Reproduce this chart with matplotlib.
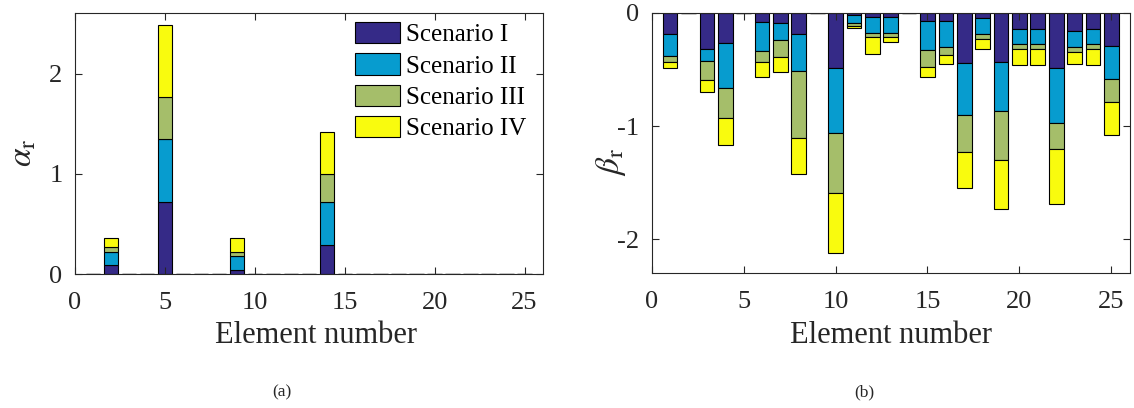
import matplotlib
matplotlib.use("Agg")
import matplotlib.pyplot as plt
import numpy as np

plt.rcParams['font.family'] = ['Liberation Serif', 'DejaVu Serif']
plt.rcParams['mathtext.fontset'] = 'stix'
plt.rcParams['axes.unicode_minus'] = False

elements = list(range(1, 26))
scenarios = ['Scenario I', 'Scenario II', 'Scenario III', 'Scenario IV']
colors = ['#352A87', '#079CCF', '#A5BE6A', '#F9FB0E']

# alpha_r (panel a): per-scenario contributions
alpha_I = [0, 0.09, 0, 0, 0.72, 0, 0, 0, 0.04, 0, 0, 0, 0, 0.294, 0, 0, 0, 0, 0, 0, 0, 0, 0, 0, 0]
alpha_II = [0, 0.135, 0, 0, 0.625, 0, 0, 0, 0.138, 0, 0, 0, 0, 0.423, 0, 0, 0, 0, 0, 0, 0, 0, 0, 0, 0]
alpha_III = [0, 0.046, 0, 0, 0.417, 0, 0, 0, 0.047, 0, 0, 0, 0, 0.281, 0, 0, 0, 0, 0, 0, 0, 0, 0, 0, 0]
alpha_IV = [0, 0.093, 0, 0, 0.724, 0, 0, 0, 0.139, 0, 0, 0, 0, 0.42, 0, 0, 0, 0, 0, 0, 0, 0, 0, 0, 0]

# beta_r (panel b): per-scenario contributions
beta_I = [-0.19, 0, -0.317, -0.27, 0, -0.079, -0.091, -0.185, 0, -0.485, -0.02, -0.041, -0.041, 0,
          -0.076, -0.07, -0.446, -0.05, -0.438, -0.147, -0.147, -0.49, -0.159, -0.147, -0.297]
beta_II = [-0.195, 0, -0.112, -0.391, 0, -0.262, -0.153, -0.329, 0, -0.581, -0.073, -0.141, -0.141, 0,
           -0.25, -0.235, -0.453, -0.141, -0.428, -0.132, -0.132, -0.485, -0.146, -0.132, -0.29]
beta_III = [-0.053, 0, -0.161, -0.264, 0, -0.091, -0.15, -0.59, 0, -0.526, -0.022, -0.032, -0.032, 0,
            -0.156, -0.071, -0.332, -0.044, -0.435, -0.044, -0.044, -0.229, -0.042, -0.044, -0.197]
beta_IV = [-0.052, 0, -0.112, -0.247, 0, -0.138, -0.132, -0.32, 0, -0.525, -0.017, -0.15, -0.047, 0,
           -0.088, -0.076, -0.317, -0.085, -0.429, -0.138, -0.138, -0.482, -0.105, -0.138, -0.294]

TXT = '#262626'
W, H = 1134, 408

fig = plt.figure(figsize=(W / 100, H / 100), dpi=100)
axA = fig.add_axes([75 / W, (H - 274.3) / H, 467.5 / W, 261 / H])
axB = fig.add_axes([651.7 / W, (H - 273.3) / H, 478 / W, 260.6 / H])

def stacked(ax, series):
    bottom = np.zeros(len(elements))
    handles = []
    for vals, col, lab in zip(series, colors, scenarios):
        v = np.array(vals, dtype=float)
        h = ax.bar(elements, v, width=0.8, bottom=bottom, color=col,
                   edgecolor='black', linewidth=0.8, label=lab)
        handles.append(h)
        bottom = bottom + v
    return handles

hA = stacked(axA, [alpha_I, alpha_II, alpha_III, alpha_IV])
stacked(axB, [beta_I, beta_II, beta_III, beta_IV])

for ax in (axA, axB):
    ax.set_xlim(0, 26)
    ax.set_xticks([0, 5, 10, 15, 20, 25])
    ax.tick_params(direction='in', top=True, right=True, labelsize=19,
                   colors=TXT, length=5, width=0.8)
    ax.tick_params(axis='x', pad=13)
    ax.tick_params(axis='y', pad=9)
    for s in ax.spines.values():
        s.set_color('#262626')
        s.set_linewidth(0.8)
    ax.set_xlabel('Element number', fontsize=22, color=TXT)
    ax.xaxis.label.set_va('baseline')

axA.set_ylim(0, 2.6)
axA.set_yticks([0, 1, 2])
axB.set_ylim(-2.3, 0)
axB.set_yticks([-2, -1, 0])

axA.xaxis.set_label_coords((316 - 75) / 467.5, (274.3 - 343) / 261)
axB.xaxis.set_label_coords(0.5, (273.3 - 343) / 260.6)

axA.set_ylabel(r'$\alpha_{\mathrm{r}}$', fontsize=24, color=TXT)
axB.set_ylabel(r'$\beta_{\mathrm{r}}$', fontsize=24, color=TXT)
for ax in (axA, axB):
    ax.yaxis.label.set_va('center')
    ax.yaxis.label.set_ha('center')
axA.yaxis.set_label_coords((23 - 75) / 467.5, (274.3 - 153) / 261)
axB.yaxis.set_label_coords((611 - 651.7) / 478, (273.3 - 162) / 260.6)

axA.legend(handles=hA, loc='upper left', bbox_to_anchor=(355 / W, 1 - 22.3 / H),
           bbox_transform=fig.transFigure, frameon=False, fontsize=18,
           handlelength=1.8, handleheight=0.92, handletextpad=0.24,
           labelspacing=0.28, borderpad=0, borderaxespad=0)

fig.text(282 / W, 1 - 392.7 / H, '(a)', ha='center', va='center', fontsize=12.5, color=TXT)
fig.text(864 / W, 1 - 392.7 / H, '(b)', ha='center', va='center', fontsize=12.5, color=TXT)

fig.savefig('out.png', dpi=100)
